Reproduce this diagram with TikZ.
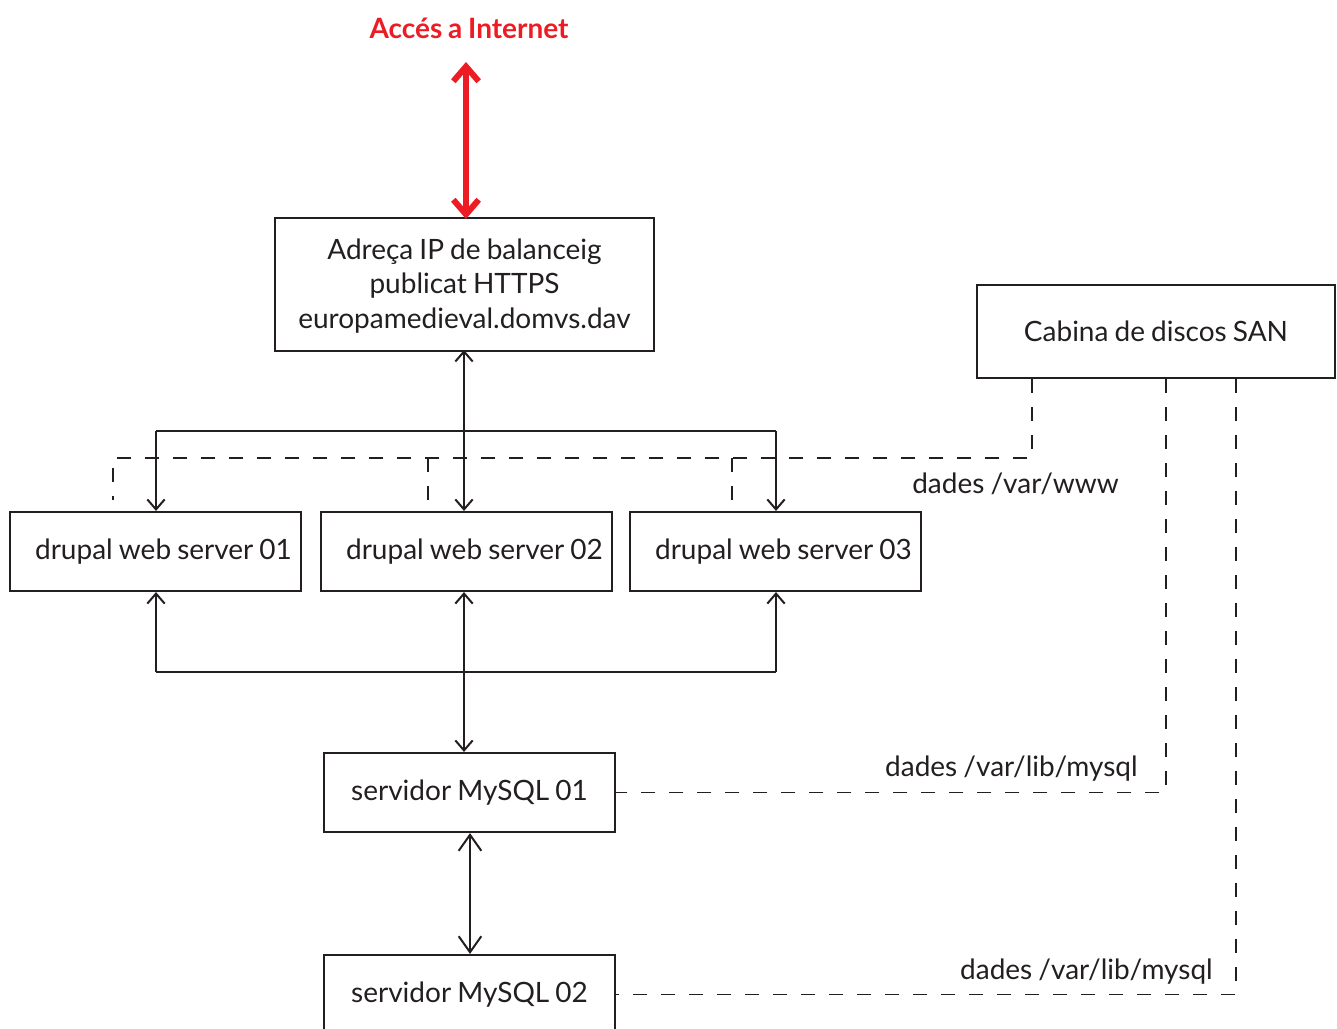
\documentclass[tikz,border=0pt]{standalone}
\usepackage{fontspec}
\setmainfont[WordSpace=0.85]{Lato}
\usetikzlibrary{arrows.meta}
\definecolor{netred}{RGB}{237,28,36}
\definecolor{ink}{RGB}{35,31,32}
\begin{document}
\begin{tikzpicture}[x=0.75pt,y=-0.75pt,
  box/.style={draw=ink,line width=1.6pt,inner sep=0pt,align=center,
    font=\fontsize{21}{26}\selectfont,text=ink},
  lbl/.style={inner sep=0pt,font=\fontsize{21}{26}\selectfont,text=ink},
  conn/.style={draw=ink,line width=1.5pt},
  dashline/.style={draw=ink,line width=1.4pt,dash pattern=on 10.5pt off 10.5pt},
  redarrow/.style={draw=netred,line width=4.5pt,
    {Straight Barb[length=11pt,width=19pt]}-{Straight Barb[length=11pt,width=19pt]}}
]
\useasboundingbox (0,0) rectangle (1337,1028);
\clip (0,0) rectangle (1337,1028);

% nodes
\node[font=\fontsize{21}{25}\selectfont\bfseries,text=netred] (title) at (469,28) {Accés a Internet};
\node[box,draw=none,minimum width=377*0.75pt,minimum height=131*0.75pt] (lb) at (464.5,286)
  {Adreça IP de balanceig\\publicat HTTPS\\europamedieval.domvs.dav};
\draw[ink,line width=1.6pt] ([yshift=1.125pt]lb.south west) rectangle ([yshift=1.125pt]lb.north east);
\node[box,minimum width=358*0.75pt,minimum height=93*0.75pt] (san) at (1156,331.5) {\raisebox{-1.5pt}{Cabina de discos SAN}};
\node[box,minimum width=291*0.75pt,minimum height=79*0.75pt] (ws1) at (155.5,551.5) {\hspace*{12pt}\raisebox{-1.5pt}{drupal web server 01}};
\node[box,minimum width=291*0.75pt,minimum height=79*0.75pt] (ws2) at (466.5,551.5) {\hspace*{12pt}\raisebox{-1.5pt}{drupal web server 02}};
\node[box,minimum width=291*0.75pt,minimum height=79*0.75pt] (ws3) at (775.5,551.5) {\hspace*{12pt}\raisebox{-1.5pt}{drupal web server 03}};
\node[box,minimum width=291*0.75pt,minimum height=79*0.75pt] (my1) at (469.5,792.5) {\raisebox{-1.5pt}{servidor MySQL 01}};
\node[box,minimum width=291*0.75pt,minimum height=79*0.75pt] (my2) at (469.5,994.5) {\raisebox{-1.5pt}{servidor MySQL 02}};

\node[lbl,anchor=west] (lwww) at (912,484) {dades /var/www};
\node[lbl,anchor=east] (lmy1) at (1138,769) {dades /var/lib/mysql};
\node[lbl,anchor=east] (lmy2) at (1213,972) {dades /var/lib/mysql};

% helper coordinates
\coordinate (xA) at (156,0);
\coordinate (xB) at (464,0);
\coordinate (xC) at (776,0);
\coordinate (xM) at (470,0);
\coordinate (xR) at (466,0);
\coordinate (inet) at (466,62);
\coordinate (lbtop) at (0,219);
\coordinate (lbbot) at (0,350);
\coordinate (bus1) at (0,431);
\coordinate (bus2) at (0,672);
\coordinate (dy) at (0,458);
\coordinate (dend) at (0,500);
\coordinate (d1) at (113,0);
\coordinate (d2) at (428,0);
\coordinate (d3) at (732,0);
\coordinate (sW) at (1032,0);
\coordinate (sM1) at (1166,0);
\coordinate (sM2) at (1236,0);

% dashed storage lines
\draw[dashline] (san.south-|sW) -- (dy-|sW) -- (dy-|d1) -- (dend-|d1);
\draw[dashline] (dy-|d2) -- (dend-|d2);
\draw[dashline] (dy-|d3) -- (dend-|d3);
\draw[dashline] (san.south-|sM1) -- (my1.east-|sM1) -- (my1.east);
\draw[dashline] (san.south-|sM2) -- (my2.east-|sM2) -- (my2.east);

% internet arrow
\draw[redarrow] (inet) -- (lbtop-|xR);

% top bus
\draw[conn] (bus1-|xA) -- (bus1-|xC);
\draw[conn,-{Straight Barb[length=7.5pt,width=13pt]}] (bus1-|xA) -- (ws1.north-|xA);
\draw[conn,-{Straight Barb[length=7.5pt,width=13pt]}] (bus1-|xC) -- (ws3.north-|xC);
\draw[conn,{Straight Barb[length=7.5pt,width=13pt]}-{Straight Barb[length=7.5pt,width=13pt]}] (lbbot-|xB) -- (ws2.north-|xB);

% bottom bus
\draw[conn] (bus2-|xA) -- (bus2-|xC);
\draw[conn,-{Straight Barb[length=7.5pt,width=13pt]}] (bus2-|xA) -- (ws1.south-|xA);
\draw[conn,-{Straight Barb[length=7.5pt,width=13pt]}] (bus2-|xC) -- (ws3.south-|xC);
\draw[conn,{Straight Barb[length=7.5pt,width=13pt]}-{Straight Barb[length=7.5pt,width=13pt]}] (ws2.south-|xB) -- (my1.north-|xB);

% mysql replication
\draw[conn,{Straight Barb[length=12pt,width=17pt]}-{Straight Barb[length=12pt,width=17pt]}] (my1.south-|xM) -- (my2.north-|xM);
\end{tikzpicture}
\end{document}
